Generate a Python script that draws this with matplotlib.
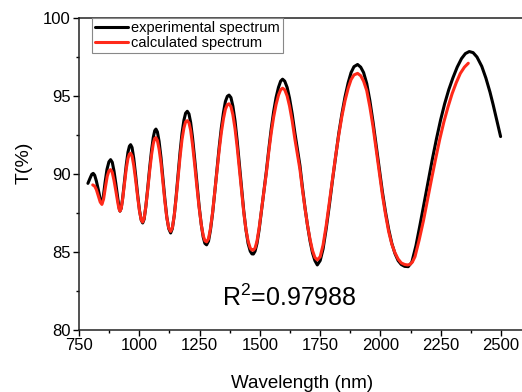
import matplotlib
matplotlib.use("Agg")
import matplotlib.pyplot as plt
from matplotlib.ticker import MultipleLocator

# experimental spectrum (nm, %)
exp_wl = [787, 795, 803, 809, 815, 822, 830, 838, 844, 850, 858, 866, 874, 881, 888, 895,
          903, 911, 916, 920, 925, 931, 938, 946, 953, 959, 964, 970, 977, 985, 993, 1001,
          1008, 1014, 1020, 1027, 1035, 1043, 1051, 1058, 1064, 1069, 1075, 1082, 1090,
          1098, 1106, 1114, 1122, 1130, 1137, 1145, 1153, 1161, 1169, 1177, 1185, 1192,
          1199, 1206, 1213, 1221, 1230, 1239, 1248, 1257, 1265, 1272, 1279, 1287, 1295,
          1304, 1313, 1322, 1331, 1340, 1349, 1357, 1365, 1372, 1380, 1388, 1397, 1406,
          1415, 1424, 1433, 1442, 1451, 1460, 1467, 1473, 1480, 1488, 1497, 1507, 1517,
          1527, 1537, 1547, 1557, 1567, 1577, 1586, 1594, 1603, 1613, 1623, 1634, 1645,
          1656, 1666, 1676, 1687, 1697, 1708, 1718, 1728, 1738, 1750, 1762, 1775, 1788,
          1801, 1814, 1827, 1840, 1853, 1866, 1878, 1890, 1905, 1918, 1930, 1943, 1956,
          1969, 1982, 1995, 2008, 2021, 2034, 2047, 2060, 2073, 2086, 2100, 2115, 2130,
          2147, 2164, 2181, 2198, 2215, 2232, 2249, 2266, 2283, 2300, 2318, 2336, 2352,
          2368, 2384, 2400, 2420, 2437, 2454, 2467, 2479, 2489, 2498]
exp_T = [89.40, 89.70, 89.98, 90.04, 89.92, 89.55, 89.00, 88.40, 88.15, 88.45, 89.45, 90.30,
         90.78, 90.92, 90.75, 90.20, 89.35, 88.40, 87.85, 87.62, 87.80, 88.45, 89.45, 90.60,
         91.40, 91.78, 91.88, 91.70, 91.00, 89.90, 88.70, 87.65, 87.05, 86.86, 87.10, 87.90,
         89.10, 90.40, 91.55, 92.35, 92.78, 92.88, 92.70, 92.10, 91.05, 89.75, 88.40, 87.25,
         86.50, 86.22, 86.50, 87.35, 88.60, 90.00, 91.40, 92.60, 93.45, 93.90, 94.02, 93.85,
         93.30, 92.30, 90.90, 89.40, 87.95, 86.75, 85.95, 85.55, 85.46, 85.70, 86.40, 87.50,
         88.85, 90.30, 91.70, 92.95, 93.95, 94.65, 94.98, 95.06, 94.90, 94.35, 93.40, 92.10,
         90.60, 89.05, 87.65, 86.45, 85.55, 85.05, 84.88, 84.87, 85.05, 85.55, 86.45, 87.70,
         88.95, 90.20, 91.60, 92.90, 94.00, 94.90, 95.55, 95.95, 96.08, 95.95, 95.55, 94.85,
         93.85, 92.65, 91.55, 90.55, 89.20, 87.85, 86.75, 85.70, 84.95, 84.45, 84.17, 84.45,
         85.20, 86.50, 88.00, 89.60, 91.10, 92.60, 93.85, 94.95, 95.85, 96.50, 96.88, 97.02,
         96.85, 96.50, 95.80, 94.70, 93.35, 91.85, 90.30, 88.85, 87.55, 86.45, 85.55, 84.90,
         84.45, 84.20, 84.08, 84.06, 84.35, 85.40, 86.75, 88.15, 89.55, 90.95, 92.25, 93.45,
         94.50, 95.40, 96.15, 96.85, 97.40, 97.72, 97.85, 97.78, 97.50, 96.90, 96.15, 95.25,
         94.45, 93.65, 93.00, 92.40]

# calculated spectrum (nm, %)
calc_wl = [807, 815, 822, 830, 838, 845, 852, 860, 867, 874, 881, 888, 895, 903, 911, 916,
           920, 925, 931, 938, 946, 953, 959, 964, 970, 977, 985, 993, 1001, 1008, 1014,
           1020, 1027, 1035, 1043, 1051, 1058, 1064, 1069, 1075, 1082, 1090, 1098, 1106,
           1114, 1122, 1130, 1137, 1145, 1153, 1161, 1169, 1177, 1185, 1192, 1199, 1206,
           1213, 1221, 1230, 1239, 1248, 1257, 1265, 1272, 1279, 1287, 1295, 1304, 1313,
           1322, 1331, 1340, 1349, 1357, 1365, 1372, 1380, 1388, 1397, 1406, 1415, 1424,
           1433, 1442, 1451, 1460, 1467, 1473, 1480, 1488, 1497, 1507, 1517, 1527, 1537,
           1547, 1557, 1567, 1577, 1586, 1594, 1603, 1613, 1623, 1634, 1645, 1656, 1666,
           1676, 1687, 1697, 1708, 1718, 1728, 1738, 1750, 1762, 1775, 1788, 1801, 1814,
           1827, 1840, 1853, 1866, 1878, 1890, 1905, 1918, 1930, 1943, 1956, 1969, 1982,
           1995, 2008, 2021, 2034, 2047, 2060, 2073, 2086, 2100, 2112, 2122, 2132, 2143,
           2160, 2178, 2195, 2212, 2229, 2246, 2263, 2280, 2297, 2314, 2331, 2348, 2364]
calc_T = [89.30, 89.22, 89.00, 88.60, 88.20, 88.05, 88.40, 89.20, 89.85, 90.20, 90.28, 90.10,
          89.60, 88.90, 88.15, 87.75, 87.62, 87.80, 88.40, 89.30, 90.35, 91.00, 91.28, 91.33,
          91.15, 90.55, 89.60, 88.55, 87.60, 87.05, 86.92, 87.15, 87.90, 89.00, 90.20, 91.25,
          91.95, 92.28, 92.33, 92.15, 91.60, 90.70, 89.50, 88.25, 87.20, 86.55, 86.32, 86.55,
          87.35, 88.50, 89.80, 91.10, 92.20, 92.95, 93.35, 93.42, 93.28, 92.80, 91.85, 90.55,
          89.15, 87.85, 86.75, 86.05, 85.72, 85.65, 85.85, 86.50, 87.55, 88.85, 90.20, 91.50,
          92.65, 93.55, 94.15, 94.45, 94.50, 94.32, 93.80, 92.90, 91.70, 90.30, 88.85, 87.55,
          86.45, 85.70, 85.25, 85.12, 85.12, 85.25, 85.70, 86.55, 87.75, 88.95, 90.10, 91.45,
          92.65, 93.65, 94.45, 95.05, 95.40, 95.50, 95.40, 95.00, 94.35, 93.40, 92.25, 91.25,
          90.30, 89.05, 87.80, 86.75, 85.80, 85.10, 84.65, 84.49, 84.70, 85.45, 86.70, 88.20,
          89.75, 91.15, 92.50, 93.70, 94.70, 95.50, 96.05, 96.35, 96.45, 96.30, 95.95, 95.35,
          94.30, 93.05, 91.60, 90.10, 88.65, 87.40, 86.30, 85.50, 84.95, 84.55, 84.30, 84.20,
          84.17, 84.20, 84.35, 84.70, 85.75, 87.00, 88.35, 89.70, 91.00, 92.25, 93.35, 94.30,
          95.15, 95.85, 96.45, 96.85, 97.10]

x_ticks = [750, 1000, 1250, 1500, 1750, 2000, 2250, 2500]
y_ticks = [80, 85, 90, 95, 100]

plt.rcParams['font.family'] = ['Liberation Sans', 'DejaVu Sans']
plt.rcParams['mathtext.fontset'] = 'custom'
plt.rcParams['mathtext.rm'] = 'Liberation Sans'
plt.rcParams['mathtext.it'] = 'Liberation Sans'

fig = plt.figure(figsize=(5.22, 3.92), dpi=100)
ax = fig.add_axes([79 / 522, 62 / 392, 446.2 / 522, 312 / 392])

ax.plot(exp_wl, exp_T, color='black', lw=2.2, label='experimental spectrum',
        solid_capstyle='round', solid_joinstyle='round')
ax.plot(calc_wl, calc_T, color='#ff2a1a', lw=2.2, label='calculated spectrum',
        solid_capstyle='round', solid_joinstyle='round')

ax.set_xlim(750, 2600)
ax.set_ylim(80, 100)
ax.set_xticks(x_ticks)
ax.set_yticks(y_ticks)
ax.xaxis.set_minor_locator(MultipleLocator(125))
ax.yaxis.set_minor_locator(MultipleLocator(2.5))
ax.tick_params(which='major', direction='out', length=4, width=1, labelsize=12, pad=2)
ax.tick_params(which='minor', direction='out', length=2.5, width=1)

for side in ['left', 'bottom', 'top']:
    ax.spines[side].set_linewidth(1.1)
    ax.spines[side].set_color('#222222')
ax.spines['right'].set_visible(False)

ax.set_xlabel('Wavelength (nm)', fontsize=13.5, labelpad=15.5)
ax.set_ylabel('T(%)', fontsize=14)
ax.yaxis.set_label_coords(-0.103, 0.535)

# R^2 annotation, placed in pixels like the original
ax.text(222, 86, r'R$^{2}$=0.97988', fontsize=18, transform=None)

leg = ax.legend(loc='upper left', bbox_to_anchor=(0.0285, 1.0), borderaxespad=0,
                fontsize=10.5, handlelength=2.3, handletextpad=0.2, borderpad=0.2,
                labelspacing=0.1, fancybox=False, framealpha=1, edgecolor='#888888')
leg.get_frame().set_linewidth(0.8)

fig.savefig('out.png', dpi=100)
